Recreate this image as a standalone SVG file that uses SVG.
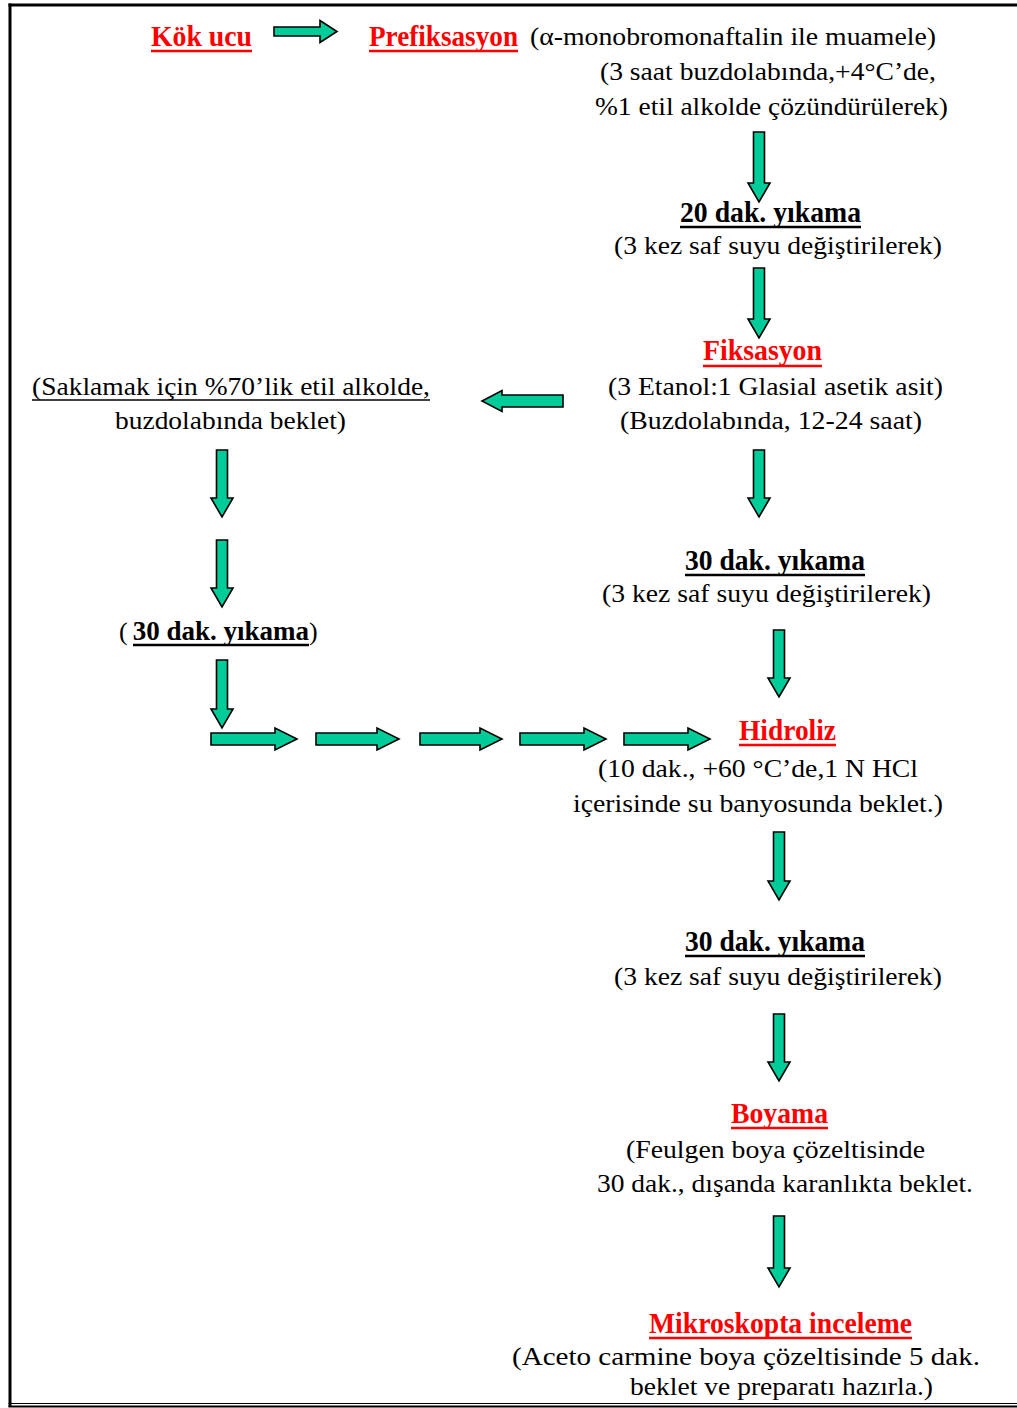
<svg xmlns="http://www.w3.org/2000/svg" width="1017" height="1408" viewBox="0 0 1017 1408">
<style>
text{font-family:"Liberation Serif","Times New Roman",serif;fill:#000}
.t{font-size:26px}
.h{font-size:29px;font-weight:bold}
.r{fill:#FF0000}
.ur{stroke:#FF0000;stroke-width:2.5}
.ub{stroke:#000;stroke-width:2.5}
.ut{stroke:#000;stroke-width:1.3}
.ar{fill:#00CC99;stroke:#000;stroke-width:1.6;stroke-linejoin:miter}
.bd{stroke:#000;fill:none}
</style>
<rect x="0" y="0" width="1017" height="1408" fill="#fff"/>
<g id="frame">
<line class="bd" x1="8.5" y1="5" x2="1017" y2="5" stroke-width="3"/>
<line class="bd" x1="10" y1="3.5" x2="10" y2="1407" stroke-width="3"/>
<line class="bd" x1="8.5" y1="1403.5" x2="1017" y2="1403.5" stroke-width="1"/>
<line class="bd" x1="8.5" y1="1406.5" x2="1017" y2="1406.5" stroke-width="2"/>
</g>
<g id="connectors">
<polygon class="ar" points="274,27 320,27 320,20.5 337,31.5 320,42.5 320,36 274,36"/>
<polygon class="ar" points="753.5,132 764.5,132 764.5,183 770,183 759,202 748,183 753.5,183"/>
<polygon class="ar" points="753.5,268 764.5,268 764.5,319 770,319 759,338 748,319 753.5,319"/>
<polygon class="ar" points="753.5,450 764.5,450 764.5,498 770,498 759,517 748,498 753.5,498"/>
<polygon class="ar" points="563,395 502,395 502,390.5 482,401 502,411.5 502,407 563,407"/>
<polygon class="ar" points="216.5,450 227.5,450 227.5,498 233,498 222,517 211,498 216.5,498"/>
<polygon class="ar" points="216.5,540 227.5,540 227.5,588 233,588 222,607 211,588 216.5,588"/>
<polygon class="ar" points="216.5,660 227.5,660 227.5,709 233,709 222,728 211,709 216.5,709"/>
<polygon class="ar" points="211,733 275,733 275,728 297,739 275,750 275,745 211,745"/>
<polygon class="ar" points="316,733 377,733 377,728 399,739 377,750 377,745 316,745"/>
<polygon class="ar" points="420,733 480,733 480,728 502,739 480,750 480,745 420,745"/>
<polygon class="ar" points="520,733 584,733 584,728 606,739 584,750 584,745 520,745"/>
<polygon class="ar" points="624,733 688,733 688,728 710,739 688,750 688,745 624,745"/>
<polygon class="ar" points="773.5,630 784.5,630 784.5,678 790,678 779,697 768,678 773.5,678"/>
<polygon class="ar" points="773.5,832 784.5,832 784.5,881 790,881 779,900 768,881 773.5,881"/>
<polygon class="ar" points="773.5,1014 784.5,1014 784.5,1062 790,1062 779,1081 768,1062 773.5,1062"/>
<polygon class="ar" points="773.5,1216 784.5,1216 784.5,1268 790,1268 779,1287 768,1268 773.5,1268"/>
</g>
<g id="kok-ucu">
<text class="h r" x="151" y="46" textLength="101" lengthAdjust="spacingAndGlyphs">Kök ucu</text>
<line class="ur" x1="151" y1="51" x2="252" y2="51"/>
</g>
<g id="prefiksasyon">
<text class="h r" x="369" y="46" textLength="149" lengthAdjust="spacingAndGlyphs">Prefiksasyon</text>
<line class="ur" x1="369" y1="51" x2="518" y2="51"/>
<text class="t" x="530" y="45" textLength="406" lengthAdjust="spacingAndGlyphs">(α-monobromonaftalin ile muamele)</text>
<text class="t" x="600" y="80" textLength="336" lengthAdjust="spacingAndGlyphs">(3 saat buzdolabında,+4°C’de,</text>
<text class="t" x="595" y="115" textLength="353" lengthAdjust="spacingAndGlyphs">%1 etil alkolde çözündürülerek)</text>
</g>
<g id="yikama-20">
<text class="h" x="680" y="222" textLength="181" lengthAdjust="spacingAndGlyphs">20 dak. yıkama</text>
<line class="ub" x1="680" y1="227" x2="861" y2="227"/>
<text class="t" x="614" y="254" textLength="328" lengthAdjust="spacingAndGlyphs">(3 kez saf suyu değiştirilerek)</text>
</g>
<g id="fiksasyon">
<text class="h r" x="703" y="360" textLength="119" lengthAdjust="spacingAndGlyphs">Fiksasyon</text>
<line class="ur" x1="703" y1="366" x2="822" y2="366"/>
<text class="t" x="608" y="395" textLength="335" lengthAdjust="spacingAndGlyphs">(3 Etanol:1 Glasial asetik asit)</text>
<text class="t" x="620" y="429" textLength="302" lengthAdjust="spacingAndGlyphs">(Buzdolabında, 12-24 saat)</text>
</g>
<g id="saklama">
<text class="t" x="32" y="395" textLength="398" lengthAdjust="spacingAndGlyphs">(Saklamak için %70’lik etil alkolde,</text>
<line class="ut" x1="32" y1="400" x2="430" y2="400"/>
<text class="t" x="115" y="429" textLength="231" lengthAdjust="spacingAndGlyphs">buzdolabında beklet)</text>
</g>
<g id="yikama-30-left">
<text class="t" x="119" y="640">(<tspan dx="5" font-size="27" font-weight="bold">30 dak. yıkama</tspan>)</text>
<line class="ub" x1="133" y1="645" x2="309" y2="645"/>
</g>
<g id="yikama-30-a">
<text class="h" x="685" y="570" textLength="180" lengthAdjust="spacingAndGlyphs">30 dak. yıkama</text>
<line class="ub" x1="685" y1="575" x2="865" y2="575"/>
<text class="t" x="602" y="602" textLength="329" lengthAdjust="spacingAndGlyphs">(3 kez saf suyu değiştirilerek)</text>
</g>
<g id="hidroliz">
<text class="h r" x="739" y="740" textLength="97" lengthAdjust="spacingAndGlyphs">Hidroliz</text>
<line class="ur" x1="739" y1="745" x2="836" y2="745"/>
<text class="t" x="598" y="777" textLength="320" lengthAdjust="spacingAndGlyphs">(10 dak., +60 °C’de,1 N HCl</text>
<text class="t" x="573" y="812" textLength="370" lengthAdjust="spacingAndGlyphs">içerisinde su banyosunda beklet.)</text>
</g>
<g id="yikama-30-b">
<text class="h" x="685" y="951" textLength="180" lengthAdjust="spacingAndGlyphs">30 dak. yıkama</text>
<line class="ub" x1="685" y1="956" x2="865" y2="956"/>
<text class="t" x="614" y="985" textLength="328" lengthAdjust="spacingAndGlyphs">(3 kez saf suyu değiştirilerek)</text>
</g>
<g id="boyama">
<text class="h r" x="731" y="1123" textLength="97" lengthAdjust="spacingAndGlyphs">Boyama</text>
<line class="ur" x1="731" y1="1128" x2="828" y2="1128"/>
<text class="t" x="626" y="1158" textLength="299" lengthAdjust="spacingAndGlyphs">(Feulgen boya çözeltisinde</text>
<text class="t" x="597" y="1192" textLength="376" lengthAdjust="spacingAndGlyphs">30 dak., dışanda karanlıkta beklet.</text>
</g>
<g id="mikroskop">
<text class="h r" x="649" y="1333" textLength="263" lengthAdjust="spacingAndGlyphs">Mikroskopta inceleme</text>
<line class="ur" x1="649" y1="1338" x2="912" y2="1338"/>
<text class="t" x="512" y="1365" textLength="468" lengthAdjust="spacingAndGlyphs">(Aceto carmine boya çözeltisinde 5 dak.</text>
<text class="t" x="630" y="1395" textLength="303" lengthAdjust="spacingAndGlyphs">beklet ve preparatı hazırla.)</text>
</g>
</svg>
